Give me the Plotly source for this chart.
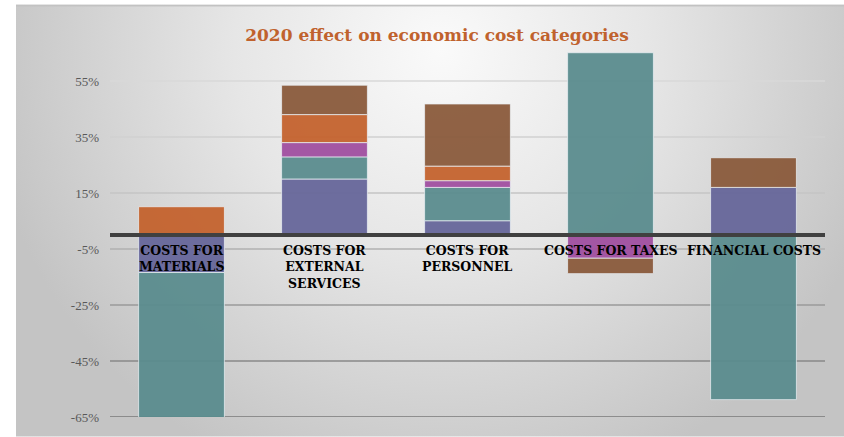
import base64
import plotly.graph_objects as go

# Cost categories and their wrapped axis captions
categories = [
    "COSTS FOR MATERIALS",
    "COSTS FOR EXTERNAL SERVICES",
    "COSTS FOR PERSONNEL",
    "COSTS FOR TAXES",
    "FINANCIAL COSTS",
]
category_captions = [
    "COSTS FOR<br>MATERIALS",
    "COSTS FOR<br>EXTERNAL<br>SERVICES",
    "COSTS FOR<br>PERSONNEL",
    "COSTS FOR TAXES",
    "FINANCIAL COSTS",
]

# Stacked components (percent change), bottom to top
component_a = [-13.4, 20.0, 5.1, None, 17.0]
component_b = [-51.8, 7.9, 11.9, 65.1, -58.8]
component_c = [None, 5.1, 2.4, -8.3, None]
component_d = [10.1, 10.0, 5.2, None, None]
component_e = [None, 10.5, 22.2, -5.5, 10.6]

tick_values = [-65, -45, -25, -5, 15, 35, 55]
tick_labels = ["-65%", "-45%", "-25%", "-5%", "15%", "35%", "55%"]

series = [
    ("Component A", component_a, "#66669a"),
    ("Component B", component_b, "#5a8c8e"),
    ("Component C", component_c, "#a04ea0"),
    ("Component D", component_d, "#c4622d"),
    ("Component E", component_e, "#8a5a3b"),
]

# gridline shades, darker toward the bottom
grid_shades = ["#787878", "#888888", "#9a9a9a", "#b0b0b0", "#c4c4c4", "#d0d0d0", "#d8d8d8"]

Y_MIN, Y_MAX = -65, 70
M_L, M_R, M_T, M_B = 110, 19, 38.6, 19.7
W, H = 844, 437

fig = go.Figure()
for name, vals, color in series:
    fig.add_trace(go.Bar(
        name=name, x=categories, y=vals,
        marker=dict(color=color, opacity=0.94,
                    line=dict(color="rgba(235,240,245,0.75)", width=1)),
    ))

# radial grey backdrop for the chart frame
svg = """<svg xmlns='http://www.w3.org/2000/svg' width='828' height='433' viewBox='0 0 828 433' preserveAspectRatio='none'>
<defs><radialGradient id='g' gradientUnits='userSpaceOnUse' cx='0' cy='0' r='1'
 gradientTransform='translate(425 45) scale(460 460)'>
<stop offset='0' stop-color='#fafafa'/>
<stop offset='0.45' stop-color='#e6e6e6'/>
<stop offset='1' stop-color='#c4c4c4'/>
</radialGradient></defs>
<rect x='0' y='0' width='828' height='433' fill='url(#g)'/>
<rect x='0' y='0' width='828' height='2' fill='#c2c2c2'/>
</svg>"""
src = "data:image/svg+xml;base64," + base64.b64encode(svg.encode()).decode()

pw = W - M_L - M_R
ph = H - M_T - M_B
fig.add_layout_image(
    source=src, xref="paper", yref="paper",
    x=(16 - M_L) / pw, y=(H - M_B - 4) / ph,
    sizex=(W - 16) / pw, sizey=(H - 4) / ph,
    sizing="stretch", xanchor="left", yanchor="top", layer="below",
)

shapes = []
for v, shade in zip(tick_values, grid_shades):
    shapes.append(dict(type="line", xref="paper", x0=0, x1=1, yref="y", y0=v, y1=v,
                       line=dict(color=shade, width=1.6), layer="below"))
shapes.append(dict(type="line", xref="paper", x0=0, x1=1, yref="y", y0=0, y1=0,
                   line=dict(color="#404040", width=4), layer="above"))

annotations = [
    dict(x=c, y=0, xref="x", yref="y", text=t, showarrow=False,
         yanchor="top", yshift=-6, align="center",
         font=dict(family="DejaVu Serif", size=12.5, color="#000000", weight="bold"))
    for c, t in zip(categories, category_captions)
]

fig.update_layout(
    width=W, height=H,
    margin=dict(l=M_L, r=M_R, t=M_T, b=M_B),
    barmode="relative", bargap=0.4,
    showlegend=False,
    paper_bgcolor="white", plot_bgcolor="rgba(0,0,0,0)",
    title=dict(text="<b>2020 effect on economic cost categories</b>",
               xref="container", yref="container", x=437 / W, y=1 - 35 / H,
               xanchor="center", yanchor="middle",
               font=dict(family="DejaVu Serif", size=17, color="#c0622d")),
    xaxis=dict(showticklabels=False, showgrid=False, zeroline=False, showline=False),
    yaxis=dict(range=[Y_MIN, Y_MAX], tickvals=tick_values, ticktext=tick_labels,
               showgrid=False, zeroline=False, showline=False,
               ticklabelstandoff=10,
               tickfont=dict(family="Liberation Serif", size=13, color="#595959")),
    shapes=shapes, annotations=annotations,
)

fig.write_html("out.html")
